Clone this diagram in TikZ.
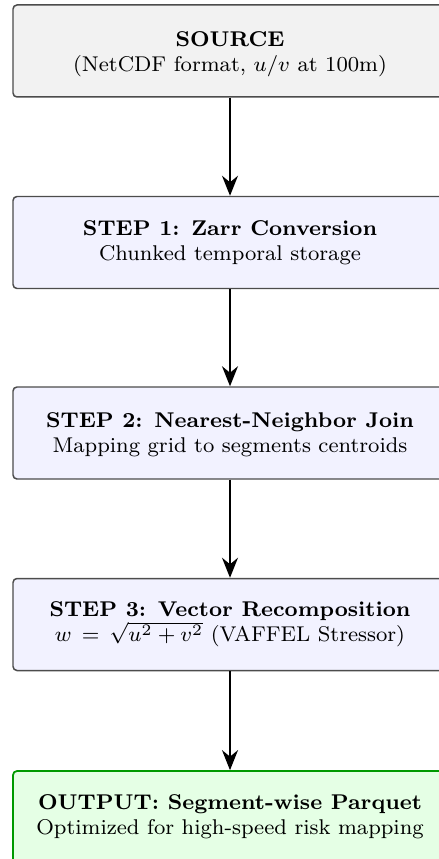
\documentclass[tikz,border=0pt]{standalone}
\usepackage{exscale}
\usetikzlibrary{arrows.meta}
\begin{document}
\begin{tikzpicture}[x=0.375pt,y=-0.375pt,
  font=\fontsize{8}{9.37}\selectfont,
  box/.style={draw=black!70, line width=0.56pt, rounded corners=1.5pt,
    minimum width=162.75pt, minimum height=34.5pt, align=center, inner sep=0pt},
  srcbox/.style={box, fill=black!5},
  stepbox/.style={box, fill=blue!5},
  outbox/.style={box, draw=green!60!black, fill=green!10, line width=0.65pt},
  flow/.style={draw=black, line width=0.75pt, -{Stealth[length=7.5pt,width=6pt]}}]
\useasboundingbox (0,0) rectangle (438,859);
\node[srcbox] (src) at (230,51) {\rule{0pt}{8pt}\textbf{SOURCE}\\(NetCDF format, $u/v$ at 100m)};
\node[stepbox] (s1) at (230,242.5) {\textbf{STEP 1: Zarr Conversion}\\Chunked temporal storage};
\node[stepbox] (s2) at (230,433) {\rule{0pt}{6.8pt}\textbf{STEP 2: Nearest-Neighbor Join}\\Mapping grid to segments centroids};
\node[stepbox] (s3) at (230,624.5) {\textbf{STEP 3: Vector Recomposition}\\$w\,=\,\sqrt{u^2+v^2}$ (VAFFEL Stressor)};
\node[outbox] (out) at (230,817) {\textbf{OUTPUT: Segment-wise Parquet}\\Optimized for high-speed risk mapping};
\draw[flow] (src.south) -- (s1.north);
\draw[flow] (s1.south) -- (s2.north);
\draw[flow] (s2.south) -- (s3.north);
\draw[flow] (s3.south) -- (out.north);
\end{tikzpicture}
\end{document}
